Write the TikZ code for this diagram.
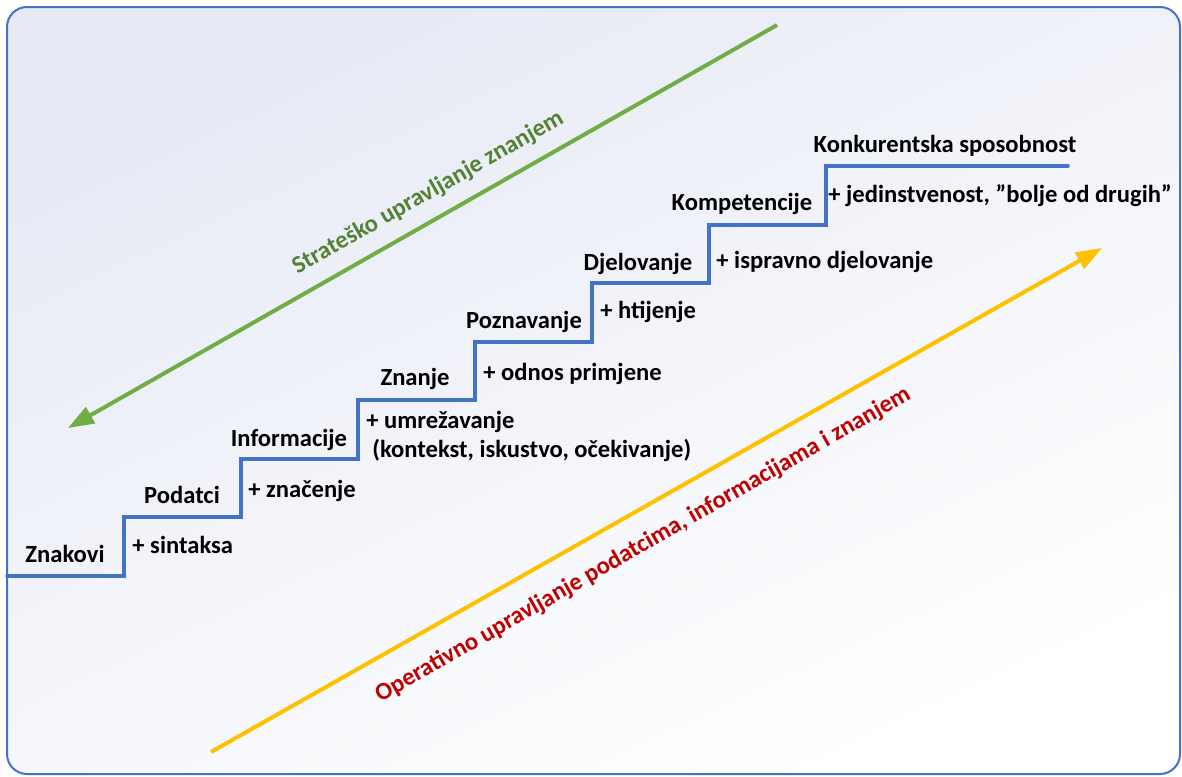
\documentclass[tikz,border=0pt]{standalone}
\usepackage{fontspec}
\setmainfont{Carlito}
\usetikzlibrary{arrows.meta, positioning}
\definecolor{stairblue}{HTML}{4472C4}
\definecolor{stratgreen}{HTML}{70AD47}
\definecolor{stratdark}{HTML}{548235}
\definecolor{opyellow}{HTML}{FFC000}
\definecolor{opred}{HTML}{C00000}
\definecolor{backtint}{HTML}{E7EAF5}

\begin{document}
\begin{tikzpicture}[x=0.5pt, y=-0.5pt,
  level/.style={font=\fontsize{12.3}{14}\selectfont\bfseries, inner sep=0pt, anchor=base},
  gain/.style={level, anchor=base west},
  flow/.style={line width=2pt, -{Triangle[length=13pt, width=9pt]}}]
  \useasboundingbox (0,0) rectangle (1182,776);
  % frame with soft background
  \shade[top color=backtint, bottom color=white, shading angle=25,
    draw=stairblue, line width=1pt, rounded corners=10pt] (7,7) rectangle (1180,774);
  % the stairs
  \draw[stairblue, line width=1.75pt, line cap=round] (7,576) -| (124,517) -| (241,459) -| (358,400)
    -| (475,342) -| (592,283) -| (709,225) -| (826,166) -- (1068,166);
  % levels
  \node[level] (znakovi) at (65,562) {Znakovi};
  \node[level] (podatci) at (182,503) {Podatci};
  \node[level] (informacije) at (289,446) {Informacije};
  \node[level] (znanje) at (415,385) {Znanje};
  \node[level] (poznavanje) at (524,328) {Poznavanje};
  \node[level] (djelovanje) at (638,270) {Djelovanje};
  \node[level] (kompetencije) at (742,210) {Kompetencije};
  \node[level] (konkurentska) at (945,152) {Konkurentska sposobnost};
  % what each step adds
  \node[gain] (sintaksa) at (132,553) {+ sintaksa};
  \node[gain] (znacenje) at (248,497) {+ značenje};
  \node[gain] (umrezavanje) at (366,428) {+ umrežavanje};
  \node[gain] (kontekst) at (372,457) {(kontekst, iskustvo, očekivanje)};
  \node[gain] (odnos) at (483,380) {+ odnos primjene};
  \node[gain] (htijenje) at (600,318) {+ htijenje};
  \node[gain] (ispravno) at (716,268) {+ ispravno djelovanje};
  \node[gain] (jedinstvenost) at (828,202) {+ jedinstvenost, ''bolje od drugih''};
  % strategic and operative management
  \coordinate (stratstart) at (777,25);
  \coordinate (stratend) at (68,428);
  \coordinate (opstart) at (211,752);
  \coordinate (opend) at (1102,248);
  \draw[flow, stratgreen] (stratstart) -- (stratend);
  \draw[flow, opyellow] (opstart) -- (opend);
  \node[level, anchor=center, rotate=29.6, text=stratdark] (strateg) at (428,193) {Strateško upravljanje znanjem};
  \node[level, anchor=center, rotate=29.8, text=opred] (operat) at (643,545) {Operativno upravljanje podatcima, informacijama i znanjem};
\end{tikzpicture}
\end{document}
